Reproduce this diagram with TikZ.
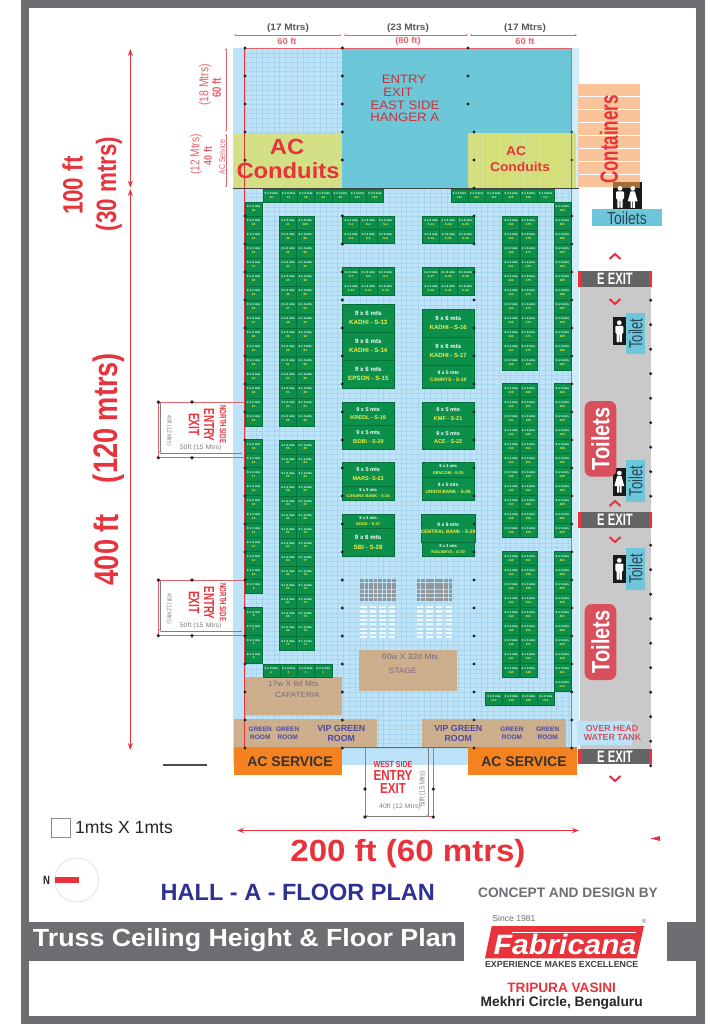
\documentclass[tikz,border=0pt]{standalone}
\usepackage{fontspec}
\setmainfont{Liberation Sans}
\usetikzlibrary{calc}
\usetikzlibrary{arrows.meta}
\newfontfamily\hsf[FakeStretch=1.08]{Liberation Sans}
\newfontfamily\vsf[FakeStretch=0.8]{Liberation Sans}
\newfontfamily\xsf[FakeStretch=0.68]{Liberation Sans}
\newcommand\hf[1]{\hsf\fontsize{#1}{#1}\selectfont}
\newcommand\vf[1]{\vsf\fontsize{#1}{#1}\selectfont}
\newcommand\xf[1]{\xsf\fontsize{#1}{#1}\selectfont}
\newcommand\pf[1]{\fontsize{#1}{#1}\selectfont}
\definecolor{framegray}{HTML}{6E6E72}
\definecolor{hallblue}{HTML}{BCE3F8}
\definecolor{hallpale}{HTML}{D2ECF9}
\definecolor{gridblue}{HTML}{8FC4E2}
\definecolor{teal1}{HTML}{6CC8D9}
\definecolor{conduit}{HTML}{D6E07A}
\definecolor{tan1}{HTML}{CFAA82}
\definecolor{orange1}{HTML}{F58220}
\definecolor{peach}{HTML}{F9C49A}
\definecolor{red1}{HTML}{E8333C}
\definecolor{red2}{HTML}{D94F5C}
\definecolor{dimred}{HTML}{E2636C}
\definecolor{stallgreen}{HTML}{0B8F4B}
\definecolor{stalldark}{HTML}{06703A}
\definecolor{stallyellow}{HTML}{F2EF4A}
\definecolor{roomblue}{HTML}{4B4A9E}
\definecolor{navy1}{HTML}{2E3192}
\definecolor{floorgray}{HTML}{C9C9C9}
\definecolor{bargray}{HTML}{636466}
\definecolor{signblue}{HTML}{6EC6DA}
\definecolor{signtext}{HTML}{2B4757}
\definecolor{stagetext}{HTML}{7A6A80}
\tikzset{
  stall/.style={draw=stalldark,line width=.3pt,fill=stallgreen,minimum width=17.3pt,inner sep=0,align=center,text=white,font={\hf{2.9}\bfseries}},
  booth/.style={draw=stalldark,line width=.4pt,fill=stallgreen,inner sep=0,align=center},
  lbl/.style={inner sep=0,align=center},
  dim/.style={dimred,line width=.4pt,{Stealth[length=2pt,width=1.6pt]}-{Stealth[length=2pt,width=1.6pt]}},
  bigdim/.style={red1,line width=.9pt,{Stealth[length=7pt,width=5pt]}-{Stealth[length=7pt,width=5pt]}},
  graydim/.style={gray,line width=.4pt,{Stealth[length=2pt,width=1.6pt]}-{Stealth[length=2pt,width=1.6pt]}},
  redbox/.style={dimred,line width=.6pt},
  post/.style={fill=black!85},
  chev/.style={red1,line width=2pt},
}
\newcommand\stalltxt[1]{3 x 3 mts\\[.8pt]\textcolor{stallyellow}{#1}}
\newcommand\stallcol[4]{\foreach \r in {1,...,#3} {
  \pgfmathtruncatemacro\n{#4>0 ? #4+\r-1 : -#4-\r+1}
  \node[stall,minimum height=14pt] (st\n) at ({#1+8.65},{#2+7+(\r-1)*14}) {\stalltxt{\n}};
}}
\newcommand\stallrow[4]{\foreach \n [count=\c] in {#4} {
  \node[stall,minimum height=#3pt] (st\n) at ({#1+8.65+(\c-1)*17.25},{#2+#3/2}) {\stalltxt{\n}};
}}
\newcommand\booth[8]{\node[booth,font={\pf{#6}\bfseries},minimum width={(#4-#2)*1pt},minimum height={(#5-#3)*1pt}] (#1) at ({(#2+#4)/2},{(#3+#5)/2})
  {\textcolor{white}{#7}\\[{#6*.55pt}]\textcolor{stallyellow}{#8}};}
\newcommand\exitbar[2]{
  \fill[bargray] (578.3,#1) rectangle (652.3,#2);
  \fill[red1] (578.3,#1) rectangle (581.6,#2);
  \fill[red1] (649,#1) rectangle (652.3,#2);
  \node[lbl,text=white,font={\xf{16.5}\bfseries}] (exit#1) at (615,{(#1+#2)/2}) {E EXIT};
}
\newcommand\manfig[2]{\begin{scope}[shift={(#1,#2)}]
  \fill[white] (0,2.4) circle (2.4pt);
  \fill[white,rounded corners=.8pt] (-4,5.5) -- (4,5.5) -- (4,13) -- (2.6,13) -- (2.6,22) -- (.3,22) -- (.3,14) -- (-.3,14) -- (-.3,22) -- (-2.6,22) -- (-2.6,13) -- (-4,13) -- cycle;
\end{scope}}
\newcommand\womanfig[2]{\begin{scope}[shift={(#1,#2)}]
  \fill[white] (0,2.4) circle (2.4pt);
  \fill[white] (-2.2,5.5) -- (2.2,5.5) -- (5,15.5) -- (2.2,15.5) -- (2.2,22) -- (.4,22) -- (.4,15.5) -- (-.4,15.5) -- (-.4,22) -- (-2.2,22) -- (-2.2,15.5) -- (-5,15.5) -- cycle;
\end{scope}}
\newcommand\northbox[2]{
  \fill[white] (158.3,#1) rectangle (233,{#1+55.7});
  \draw[redbox] (244.7,#1) -- (158.3,#1) -- (158.3,{#1+55.7}) -- (244.7,{#1+55.7});
  \coordinate (n#2a) at (160,#1);
  \coordinate (n#2b) at (160,{#1+51.3});
  \coordinate (n#2c) at (242,{#1+51.3});
  \draw[graydim] (n#2a) -- (n#2b);
  \draw[graydim] (n#2b) -- (n#2c);
  \node[lbl,rotate=-90,text=gray,font=\vf{6.3}] (n#2h) at (169,{#1+28.7}) {40ft (12 Mtrs)};
  \node[lbl,text=gray,font=\hf{6.5}] (n#2w) at (200.7,{#1+46.3}) {50ft (15 Mtrs)};
  \node[lbl,rotate=-90,text=red1,font={\xf{9}\bfseries}] (n#2s) at (223,{#1+22.3}) {NORTH SIDE};
  \node[lbl,rotate=-90,text=red1,font={\xf{14.5}\bfseries}] (n#2e) at (209,{#1+23}) {ENTRY};
  \node[lbl,rotate=-90,text=red1,font={\xf{15}\bfseries}] (n#2x) at (194,{#1+22.5}) {EXIT};
  \foreach \px in {158.3,192} \foreach \py in {#1,{#1+55.7}} \fill[post] (\px,\py) circle (1.8pt);
}

\begin{document}
\begin{tikzpicture}[x=1pt,y=-1pt]

\useasboundingbox (0,0) rectangle (724,1024);
\fill[white] (0,0) rectangle (724,1024);
\fill[framegray] (21,0) rectangle (705,1024);
\fill[white] (29,8) rectangle (696,1016);

\fill[hallblue] (233,48) rectangle (579,765);
\fill[hallpale] (572,48) rectangle (579,765);
\foreach \k in {0,...,56} \draw[gridblue,line width=.25pt,opacity=.38] ({245+5.77*\k},48) -- ({245+5.77*\k},748);
\foreach \k in {0,...,150} \draw[gridblue,line width=.25pt,opacity=.38] (245,{48+4.667*\k}) -- (572,{48+4.667*\k});
\fill[conduit,opacity=.9] (233.7,133) rectangle (342.3,188);
\fill[tan1,opacity=.9] (245,677.3) rectangle (342,714.7);
\fill[tan1,opacity=.9] (359,650) rectangle (456.7,691);
\fill[tan1,opacity=.9] (233.7,719.3) rectangle (377,747.3);
\fill[tan1,opacity=.9] (422.3,719.3) rectangle (565.7,747.3);
\fill[teal1] (342.3,48) rectangle (571.7,188);
\fill[conduit] (468.3,133) rectangle (576,188);
\foreach \k in {0,...,18} \draw[gridblue,line width=.25pt,opacity=.2] ({468.3+5.77*\k},133) -- ({468.3+5.77*\k},188);

\foreach \k in {0,...,7} \fill[peach] (578.3,{83.3+13.07*\k+.5}) rectangle (640,{83.3+13.07*\k+12.5});
\fill[floorgray] (580,287) rectangle (650.7,749);

\coordinate (TL) at (244.7,48);
\coordinate (TR) at (571.7,48);
\coordinate (BL) at (244.7,748);
\coordinate (BR) at (571.7,748);
\coordinate (BM1) at (342.3,747.5);
\coordinate (BM2) at (468.3,747.5);
\draw[red1,line width=.8pt] (BL) -- (TL);
\draw[dimred,line width=.7pt] (TL) -- (TR) -- (BR);
\draw[black!75,line width=.8pt] (233,188.3) -- (579,188.3);

\northbox{402}{a}
\northbox{580}{b}

\fill[orange1] (233.7,747.3) rectangle (342.3,775);
\fill[orange1] (468.3,747.3) rectangle (576.7,775);
\node[lbl,text=black!80,font={\pf{14}\bfseries}] (acl) at (290,761.7) {AC SERVICE};
\node[lbl,text=black!80,font={\pf{14}\bfseries}] (acr) at (524,761.7) {AC SERVICE};
\draw[red1,line width=.7pt] (BM1) -- (BM2);

\fill[white] (365,765) rectangle (433.3,816.7);
\coordinate (wa) at (365,747.7);
\coordinate (wb) at (365,816.7);
\coordinate (wc) at (433.3,816.7);
\coordinate (wd) at (433.3,747.7);
\draw[redbox] (wa) -- (wb) -- (wc) -- (wd);
\coordinate (we) at (428.3,748);
\coordinate (wf) at (428.3,816);
\coordinate (wg) at (366,816);
\draw[graydim] (we) -- (wf);
\draw[graydim] (wg) -- (wf);
\node[lbl,rotate=90,text=gray,font=\vf{7.4}] (wh) at (422.7,789) {50ft (15 Mtrs)};
\node[lbl,text=gray,font=\hf{6.5}] (wi) at (400,807.3) {40ft (12 Mtrs)};
\node[lbl,text=red1,font={\vf{8.8}\bfseries}] (ws) at (393,764) {WEST SIDE};
\node[lbl,text=red1,font={\vf{14.5}\bfseries}] (we1) at (393,776) {ENTRY};
\node[lbl,text=red1,font={\vf{14.5}\bfseries}] (wx) at (393,789) {EXIT};
\foreach \px in {365,433.3} \foreach \py in {789,817} \fill[post] (\px,\py) circle (1.8pt);

\stallrow{262.7}{189}{12.7}{36,37,38,39,40,101,102}
\stallrow{450.7}{189}{12.7}{112,113,114,115,116,117}
\stallcol{245}{201.7}{16}{-35}
\stallcol{245}{439.3}{11}{-19}
\stallcol{245}{607}{4}{-8}
\stallrow{262.7}{663.7}{13.7}{4,3,2,1}
\stallcol{279.3}{215.7}{15}{41}
\stallcol{296.6}{215.7}{15}{-100}
\stallcol{279.3}{440}{15}{56}
\stallcol{296.6}{440}{15}{-85}
\stallrow{342.3}{215.7}{13.8}{S-1,S-2,S-3}
\stallrow{342.3}{229.5}{13.8}{S-4,S-5,S-6}
\stallrow{342.3}{267.3}{14}{S-7,S-8,S-9}
\stallrow{342.3}{281.3}{14}{S-10,S-11,S-12}
\stallrow{422.3}{215.7}{13.8}{S-31,S-32,S-33}
\stallrow{422.3}{229.5}{13.8}{S-34,S-35,S-36}
\stallrow{422.3}{267.3}{14}{S-37,S-38,S-39}
\stallrow{422.3}{281.3}{14}{S-40,S-41,S-42}
\stallcol{502.3}{215.7}{11}{118}
\stallcol{502.3}{383.3}{11}{129}
\stallcol{502.3}{551.3}{9}{140}
\stallcol{519.7}{215.7}{11}{-179}
\stallcol{519.7}{383.3}{11}{-168}
\stallcol{519.7}{551.3}{9}{-157}
\stallcol{553.7}{201.7}{12}{180}
\stallcol{553.7}{383.3}{11}{192}
\stallcol{553.7}{551.3}{10}{203}
\stallrow{485.3}{691.7}{13.6}{217,216,215,214}

\booth{sA}{342.3}{304}{394.3}{332}{6.2}{9 x 6 mts}{KADHI - S-13}
\booth{sB}{342.3}{332}{394.3}{360}{6.2}{9 x 6 mts}{KADHI - S-14}
\booth{sC}{342.3}{360}{394.3}{388}{6.2}{9 x 6 mts}{EPSON - S-15}
\booth{sD}{422.3}{308.7}{474.3}{336.7}{6}{9 x 6 mts}{KADHI - S-16}
\booth{sE}{422.3}{336.7}{474.3}{364.7}{6}{9 x 6 mts}{KADHI - S-17}
\booth{sF}{422.3}{364.7}{474.3}{388}{5}{9 x 5 mts}{CANNYS - S-18}
\booth{sG}{342.3}{402}{394}{425.5}{5.5}{9 x 5 mts}{KREDL - S-19}
\booth{sH}{342.3}{425.5}{394}{449}{5.5}{9 x 5 mts}{SIDBI - S-20}
\booth{sI}{422.3}{402.3}{474}{426}{5.5}{9 x 5 mts}{KMF - S-21}
\booth{sJ}{422.3}{426}{474}{449}{5.5}{9 x 5 mts}{ACE - S-22}
\booth{sK}{342.3}{462.3}{394}{485.7}{5.5}{9 x 5 mts}{MARS- S-23}
\booth{sL}{342.3}{485.7}{394}{500.3}{4.1}{9 x 3 mts}{CANARA BANK - S-24}
\booth{sM}{422.3}{462.3}{474}{476.7}{4.1}{9 x 3 mts}{GENCOM - S-25}
\booth{sN}{422.3}{476.7}{474}{500.3}{4.8}{9 x 5 mts}{UNION BANK - S-26}
\booth{sO}{342.3}{513.7}{394}{528.3}{4.1}{9 x 3 mts}{SONA - S-27}
\booth{sP}{342.3}{528.3}{394}{556.3}{6.2}{9 x 6 mts}{SBI - S-28}
\booth{sQ}{422.3}{514}{474}{542.3}{5}{9 x 6 mts}{CENTRAL BANK - S-29}
\booth{sR}{422.3}{542.3}{474}{556.3}{4.1}{9 x 3 mts}{RAILWAYS - S-30}

\foreach \ox in {0,56.7} {
  \foreach \cx in {0,...,7} \foreach \cy in {0,...,5}
    \fill[black!45,opacity=.85] ({360+\ox+\cx*4.55},{579+\cy*3.7}) rectangle ++(3.7,3);
  \foreach \cx in {0,...,3} \foreach \cy in {0,...,7}
    \fill[white,opacity=.8] ({360+\ox+\cx*9.6},{606+\cy*4.3}) rectangle ++(6.5,2.2);
}

\foreach \k in {0,...,4,6,7,...,25} \fill[post] (245,{48+28*\k}) circle (1.7pt);
\foreach \k in {0,...,4,6,7,...,25} \fill[post] (342.3,{48+28*\k}) circle (1.7pt);
\foreach \k in {0,1,2} \fill[post] (468,{48+28*\k}) circle (1.7pt);
\foreach \k in {3,4,5,6,...,25} \fill[post] (474,{48+28*\k}) circle (1.7pt);
\foreach \k in {6,7,...,25} \fill[post] (571.7,{48+28*\k}) circle (1.7pt);
\foreach \k in {3,4} \fill[black!60!conduit] (571.7,{48+28*\k}) circle (1.7pt);
\foreach \k in {0,...,20} \fill[post] (650.7,{275.7+24.5*\k}) circle (1.7pt);

\node[lbl,text=red1!90!black,font=\hf{12.2}] (ea) at (404,79) {ENTRY};
\node[lbl,text=red1!90!black,font=\hf{12.2}] (eb) at (398,92) {EXIT};
\node[lbl,text=red1!90!black,font=\hf{12.2}] (ec) at (405,105) {EAST SIDE};
\node[lbl,text=red1!90!black,font=\hf{12.2}] (ed) at (404.7,117.7) {HANGER A};
\node[lbl,text=red1,font={\hf{22}\bfseries}] (cla) at (287,147) {AC};
\node[lbl,text=red1,font={\hf{22}\bfseries}] (clb) at (288,171) {Conduits};
\node[lbl,text=red1,font={\hf{12.8}\bfseries}] (cra) at (516,150.7) {AC};
\node[lbl,text=red1,font={\hf{12.8}\bfseries}] (crb) at (520,166.7) {Conduits};

\node[lbl,text=framegray!80!black,font={\hf{9.3}\bfseries}] (ta) at (288,28) {(17 Mtrs)};
\node[lbl,text=framegray!80!black,font={\hf{9.3}\bfseries}] (tb) at (408,28) {(23 Mtrs)};
\node[lbl,text=framegray!80!black,font={\hf{9.3}\bfseries}] (tc) at (525,28) {(17 Mtrs)};
\node[lbl,text=dimred,font={\hf{8.6}\bfseries}] (fa) at (287,41) {60 ft};
\node[lbl,text=dimred,font={\hf{8.6}\bfseries}] (fb) at (408,41) {(80 ft)};
\node[lbl,text=dimred,font={\hf{8.6}\bfseries}] (fc) at (525,41) {60 ft};
\coordinate (d0) at (234,35);
\coordinate (d1) at (341.7,35);
\coordinate (d2) at (344,35);
\coordinate (d3) at (468,35);
\coordinate (d4) at (470,35);
\coordinate (d5) at (577,35);
\draw[dim] (d0) -- (d1);
\draw[dim] (d2) -- (d3);
\draw[dim] (d4) -- (d5);
\coordinate (v0) at (226,48);
\coordinate (v1) at (226,131.7);
\coordinate (v2) at (226,134);
\coordinate (v3) at (226,187.5);
\draw[dim] (v0) -- (v1);
\draw[dim] (v2) -- (v3);
\node[lbl,rotate=90,text=dimred,font={\vf{13}}] (la) at (205,85) {(18 Mtrs)};
\node[lbl,rotate=90,text=dimred,font={\vf{12}\bfseries}] (lb) at (216.7,88) {60 ft};
\node[lbl,rotate=90,text=dimred,font={\vf{12.7}}] (lc) at (196,154.5) {(12 Mtrs)};
\node[lbl,rotate=90,text=dimred,font={\vf{11}\bfseries}] (ld) at (208,156) {40 ft};
\node[lbl,rotate=90,text=dimred,font=\vf{8.5}] (le) at (222,157) {AC Service};

\coordinate (h0) at (130.3,49);
\coordinate (h1) at (130.3,187.7);
\coordinate (h2) at (130.3,189);
\coordinate (h3) at (130.3,750);
\draw[bigdim] (h0) -- (h1);
\draw[bigdim] (h2) -- (h3);
\node[lbl,rotate=90,text=red1,font={\vf{28}\bfseries}] (ha) at (72.7,185.7) {100 ft};
\node[lbl,rotate=90,text=red1,font={\vf{28}\bfseries}] (hb) at (109,184) {(30 mtrs)};
\node[lbl,rotate=90,text=red1,font={\vf{34}\bfseries}] (hc) at (108.7,418) {(120 mtrs)};
\node[lbl,rotate=90,text=red1,font={\vf{34}\bfseries}] (hd) at (106,549.7) {400 ft};
\draw[black!70,line width=1.2pt] (162.7,765) -- (207.3,765);

\node[lbl,rotate=90,text=red1,font={\xf{25}\bfseries}] (cont) at (609,139.5) {Containers};
\fill[black!90] (612.7,182) rectangle (641.7,209.3);
\fill[brown!85!black] (612.7,182) rectangle (640,187.7);
\manfig{620}{186}
\womanfig{632.7}{186}
\fill[signblue] (592.3,209.3) rectangle (661.7,226.3);
\node[lbl,text=signtext,font=\vf{17.5}] (tt) at (627,218) {Toilets};

\exitbar{271.3}{286.7}
\exitbar{512.3}{527.7}
\exitbar{749}{764}
\draw[chev] (609.5,259) -- (615,254) -- (620.5,259);
\draw[chev] (609.5,299) -- (615,304) -- (620.5,299);
\draw[chev] (609.5,506) -- (615,501) -- (620.5,506);
\draw[chev] (609.5,537) -- (615,542) -- (620.5,537);
\draw[chev] (609.5,776) -- (615,781) -- (620.5,776);

\foreach \iy/\sy in {317.3/312.7,555/548} {
  \fill[black!90] (612.7,\iy) rectangle (625.7,\iy+28);
  \fill[signblue] (625.7,\sy) rectangle (645.3,\sy+41.7);
  \manfig{619.3}{\iy+3}
  \node[lbl,rotate=90,text=signtext,font=\xf{19}] (ts\sy) at (635.5,\sy+20.8) {Toilet};
}
\fill[black!90] (612.7,467.7) rectangle (625.7,495.7);
\fill[signblue] (625.7,460.3) rectangle (645.3,502);
\womanfig{619.3}{470.7}
\node[lbl,rotate=90,text=signtext,font=\xf{19}] (tsw) at (635.5,481.1) {Toilet};

\fill[red2,rounded corners=7pt] (584.7,401) rectangle (616.3,476.7);
\fill[red2,rounded corners=7pt] (584.7,604) rectangle (616.3,680);
\node[lbl,rotate=90,text=white,font={\vf{25}\bfseries}] (rta) at (600.5,438.8) {Toilets};
\node[lbl,rotate=90,text=white,font={\vf{25}\bfseries}] (rtb) at (600.5,642) {Toilets};

\fill[hallblue] (576.7,721) rectangle (631.7,745);
\node[lbl,text=red2,font={\pf{8.8}\bfseries}] (oa) at (612,728.3) {OVER HEAD};
\node[lbl,text=red2,font={\pf{8.8}\bfseries}] (ob) at (612.5,737) {WATER TANK};

\node[lbl,text=roomblue,font={\pf{6.5}\bfseries}] (ga) at (260.3,733.5) {GREEN\\[1pt]ROOM};
\node[lbl,text=roomblue,font={\pf{6.5}\bfseries}] (gb) at (287.7,733.5) {GREEN\\[1pt]ROOM};
\node[lbl,text=roomblue,font={\pf{8.8}\bfseries}] (gc) at (341.3,733.5) {VIP GREEN\\[1pt]ROOM};
\node[lbl,text=roomblue,font={\pf{8.8}\bfseries}] (gd) at (458.3,733.5) {VIP GREEN\\[1pt]ROOM};
\node[lbl,text=roomblue,font={\pf{6.5}\bfseries}] (ge) at (512,733.5) {GREEN\\[1pt]ROOM};
\node[lbl,text=roomblue,font={\pf{6.5}\bfseries}] (gf) at (547.7,733.5) {GREEN\\[1pt]ROOM};
\node[lbl,text=stagetext,font=\hf{7.7}] (ca) at (293.3,684) {17w X 8d Mts};
\node[lbl,text=stagetext,font=\hf{7.5}] (cb) at (297.3,695.3) {CAFATERIA};
\node[lbl,text=stagetext,font=\hf{7.9}] (sa) at (410,656.7) {60w X 32d Mts};
\node[lbl,text=stagetext,font=\hf{7.9}] (sb) at (402.7,670.3) {STAGE};

\draw[black!45,line width=.7pt] (51,818) rectangle (70,837);
\node[lbl,text=black!85,font=\pf{17.6}] (unit) at (124,828) {1mts X 1mts};
\coordinate (w0) at (237,830.5);
\coordinate (w1) at (579,830.5);
\draw[bigdim] (w0) -- (w1);
\fill[red1] (650.5,838.5) -- (660,836) -- (660,841) -- cycle;
\node[lbl,text=red1,font={\hf{30.6}\bfseries}] (wide) at (408,854) {200 ft (60 mtrs)};
\draw[black!15,line width=.5pt] (76.6,880) circle (22pt);
\fill[red1] (55.4,876.7) rectangle (78.5,882.7);
\node[lbl,text=black!85,font={\vf{12}\bfseries}] (north) at (46.5,880) {N};
\node[lbl,text=navy1,font={\pf{23.5}\bfseries}] (hall) at (297.8,892.7) {HALL - A - FLOOR PLAN};
\node[lbl,text=framegray,font={\pf{13.7}\bfseries}] (cdb) at (568,893) {CONCEPT AND DESIGN BY};

\fill[framegray] (29,922.3) rectangle (696,960.7);
\fill[white] (464,903) rectangle (667,979);
\node[lbl,text=white,font={\hf{24.8}\bfseries}] (truss) at (245,940) {Truss Ceiling Height \& Floor Plan};

\fill[red1] (491.7,926) -- (644,926) -- (636.7,958.3) -- (485,958.3) -- cycle;
\draw[white,line width=.8pt] (512,932.7) -- (636,932.7);
\node[lbl,text=white,font={\hf{28}\bfseries\itshape}] (logo) at (565,944.5) {Fabricana};
\node[lbl,text=framegray,font=\pf{8.6}] (since) at (514,918.7) {Since 1981};
\node[lbl,text=framegray,font=\pf{6}] (regd) at (644,921.7) {®};
\node[lbl,text=black!75,font={\pf{8.84}\bfseries}] (exp) at (561.7,964.3) {EXPERIENCE MAKES EXCELLENCE};
\node[lbl,text=red1,font={\pf{13.6}\bfseries}] (trip) at (561.7,987.7) {TRIPURA VASINI};
\node[lbl,text=black!85,font={\pf{13.75}\bfseries}] (mek) at (561.7,1003.3) {Mekhri Circle, Bengaluru};

\end{tikzpicture}
\end{document}
